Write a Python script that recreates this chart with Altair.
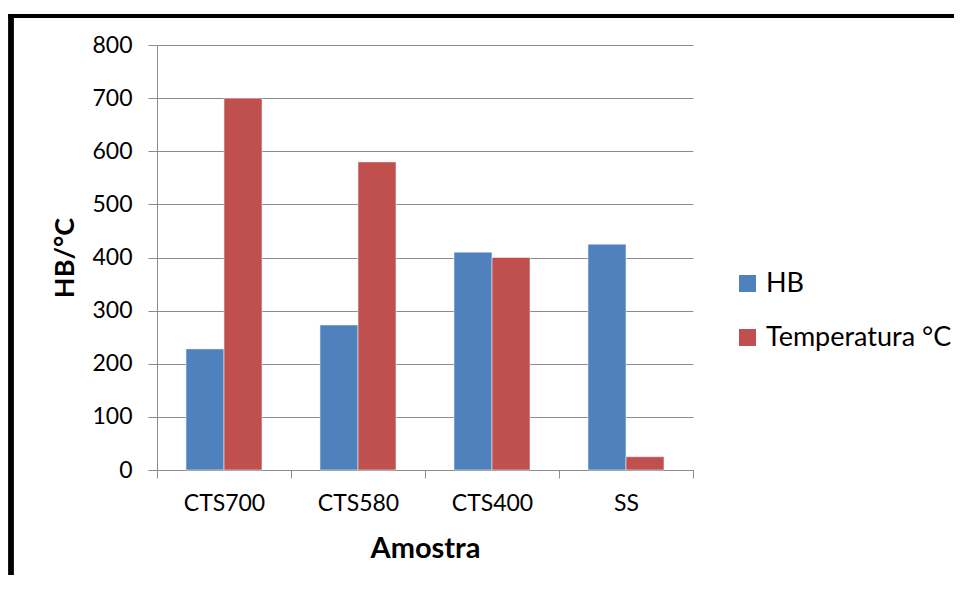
import altair as alt
import pandas as pd

categories = ["CTS700", "CTS580", "CTS400", "SS"]
series_names = ["HB", "Temperatura °C"]
hb_values = [228, 273, 410, 425]
temp_values = [700, 580, 400, 25]
y_ticks = [0, 100, 200, 300, 400, 500, 600, 700, 800]
colors = ["#4F81BD", "#C0504D"]

rows = []
for c, h, t in zip(categories, hb_values, temp_values):
    rows.append({"Amostra": c, "Serie": series_names[0], "Valor": h})
    rows.append({"Amostra": c, "Serie": series_names[1], "Valor": t})
df = pd.DataFrame(rows)

FONT = "Lato"
GRID = "#8C8C8C"

bars = alt.Chart(df).mark_bar(stroke="#e8eef6", strokeWidth=0.6).encode(
    x=alt.X("Amostra:N", sort=categories,
            scale=alt.Scale(paddingInner=0, paddingOuter=0),
            axis=alt.Axis(title="Amostra", labelAngle=0, tickBand="extent",
                          tickSize=8, tickColor=GRID, domainColor=GRID,
                          labelFont=FONT, labelFontSize=23, labelColor="#000",
                          labelPadding=14,
                          titleFont=FONT, titleFontSize=29, titleFontWeight="bold",
                          titleColor="#000", titlePadding=19, grid=False)),
    xOffset=alt.XOffset("Serie:N", sort=series_names,
                        scale=alt.Scale(paddingInner=0, paddingOuter=0.763)),
    y=alt.Y("Valor:Q", scale=alt.Scale(domain=[0, 800]),
            axis=alt.Axis(title="HB/°C", values=y_ticks, tickSize=9,
                          tickColor=GRID, domainColor=GRID, gridColor=GRID,
                          labelFont=FONT, labelFontSize=23, labelColor="#000",
                          labelPadding=16,
                          titleFont=FONT, titleFontSize=27, titleFontWeight="bold",
                          titleColor="#000", titlePadding=12)),
    color=alt.Color("Serie:N", sort=series_names,
                    scale=alt.Scale(domain=series_names, range=colors),
                    legend=alt.Legend(title=None, orient="none", legendX=577,
                                      legendY=225, symbolType="square",
                                      symbolSize=289, symbolStrokeWidth=0,
                                      labelFont=FONT, labelFontSize=27,
                                      labelColor="#000", labelOffset=5,
                                      labelLimit=400, rowPadding=26)),
)

left_border = alt.Chart(df).mark_rule(color="#000", strokeWidth=4.5).encode(
    x=alt.value(-146), y=alt.value(-30), y2=alt.value(560))
top_border = alt.Chart(df).mark_rule(color="#000", strokeWidth=3).encode(
    x=alt.value(-149), x2=alt.value(800), y=alt.value(-29))

chart = alt.layer(bars, left_border, top_border).properties(
    width=536, height=425,
    autosize=alt.AutoSizeParams(type="none"),
    padding={"left": 149, "top": 37, "right": 261, "bottom": 105},
    background="white",
).configure_view(stroke=None)

chart.save("out.html", embed_options={"renderer": "svg", "actions": False})
